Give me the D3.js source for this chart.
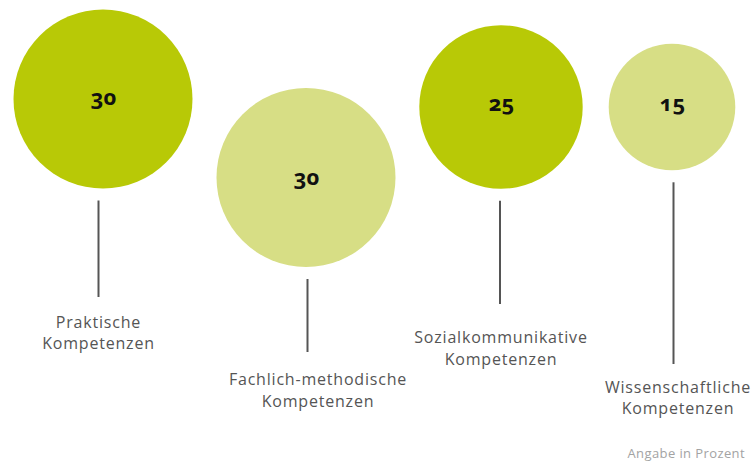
<!DOCTYPE html>
<html><head><meta charset="utf-8">
<script src="https://cdn.jsdelivr.net/npm/d3@7"></script>
<style>
html,body{margin:0;padding:0;background:#fff;}
svg{display:block;}
</style></head>
<body>
<script>
// Data
const categories = ["Praktische Kompetenzen", "Fachlich-methodische Kompetenzen", "Sozialkommunikative Kompetenzen", "Wissenschaftliche Kompetenzen"];
const labelLines = [["Praktische","Kompetenzen"],["Fachlich-methodische","Kompetenzen"],["Sozialkommunikative","Kompetenzen"],["Wissenschaftliche","Kompetenzen"]];
const values = [30, 30, 25, 15];
const shades = ["dark", "light", "dark", "light"];
const note = "Angabe in Prozent";

const W = 751, H = 461;
const svg = d3.select("body").append("svg").attr("width", W).attr("height", H);

// Layout scales
const xPos = d3.scaleOrdinal().domain(categories).range([103, 306, 501, 672]);
const yPos = d3.scaleOrdinal().domain(categories).range([99, 177.5, 107, 107]);
const numBase = d3.scaleOrdinal().domain(categories).range([104.5, 185, 110.5, 110.5]);
const lineX = d3.scaleOrdinal().domain(categories).range([98.5, 307.5, 500, 673.5]);
const lineEnd = d3.scaleOrdinal().domain(categories).range([297, 352, 304, 364]);
const labelX = d3.scaleOrdinal().domain(categories).range([98.5, 318, 501, 678]);
const labelY = d3.scaleOrdinal().domain(categories).range([327.5, 385, 343, 392.5]);
const r = d3.scaleSqrt().domain([0, 30]).range([0, 89.5]);
const color = d3.scaleOrdinal().domain(["dark","light"]).range(["#b8c906", "#d7de85"]);

const data = categories.map((c, i) => ({c, v: values[i], s: shades[i], lines: labelLines[i]}));

const g = svg.selectAll("g.item").data(data).join("g").attr("class","item");

g.append("circle")
  .attr("cx", d => xPos(d.c))
  .attr("cy", d => yPos(d.c))
  .attr("r", d => r(d.v))
  .attr("fill", d => color(d.s));

g.append("text")
  .attr("x", d => xPos(d.c) + 0.5)
  .attr("y", d => numBase(d.c))
  .attr("text-anchor", "middle")
  .style("font-family", "'Open Sans', sans-serif")
  .style("font-weight", "700")
  .style("font-size", "22px")
  .style("font-feature-settings", "'onum' 1")
  .style("font-variant-numeric", "oldstyle-nums")
  .attr("fill", "#111")
  .text(d => d.v);

g.append("line")
  .attr("x1", d => lineX(d.c))
  .attr("x2", d => lineX(d.c))
  .attr("y1", d => yPos(d.c) + r(d.v) + 12)
  .attr("y2", d => lineEnd(d.c))
  .attr("stroke", "#555")
  .attr("stroke-width", 2);

g.each(function(d) {
  const t = d3.select(this).append("text")
    .attr("text-anchor", "middle")
    .style("font-family", "'Open Sans', sans-serif")
    .style("font-size", "16px")
    .style("letter-spacing", "0.8px")
    .attr("fill", "#555");
  d.lines.forEach((ln, j) => {
    t.append("tspan").attr("x", labelX(d.c)).attr("y", labelY(d.c) + j * 21.5).text(ln);
  });
});

svg.append("text")
  .attr("x", 745).attr("y", 458)
  .attr("text-anchor", "end")
  .style("font-family", "'Open Sans', sans-serif")
  .style("font-size", "13px")
  .style("letter-spacing", "0.4px")
  .attr("fill", "#a3a3a3")
  .text(note);
</script>
</body></html>
